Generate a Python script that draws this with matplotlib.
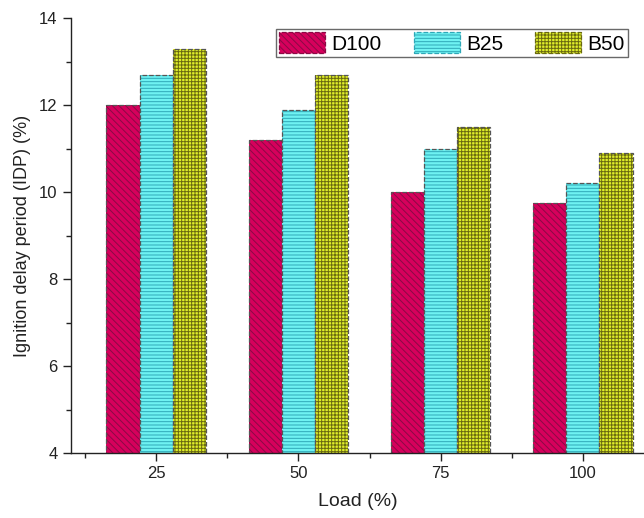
import numpy as np
import matplotlib
matplotlib.use('Agg')
import matplotlib.pyplot as plt
from matplotlib.patches import Patch
from matplotlib.ticker import MultipleLocator, FixedLocator

# data
loads = ['25', '50', '75', '100']
d100 = [12.0, 11.2, 10.0, 9.75]
b25 = [12.7, 11.9, 11.0, 10.2]
b50 = [13.3, 12.7, 11.5, 10.9]
series_names = ['D100', 'B25', 'B50']

plt.rcParams['font.family'] = ['Liberation Sans', 'DejaVu Sans']
plt.rcParams['hatch.linewidth'] = 0.7

faces = ['#d6005c', '#6ef2f2', '#dfee2a']
hatch_cols = ['#8a0a45', '#2fa8b8', '#6a6a10']
hatches = ['\\\\\\\\\\', '-----', '+++++']

fig = plt.figure(figsize=(6.44, 5.18), dpi=100)
ax = fig.add_axes([0.110, 0.125, 0.89, 0.840])

x = np.arange(1, len(loads) + 1)
width = 0.233
handles = []
for i, vals in enumerate([d100, b25, b50]):
    pos = x + (i - 1) * width
    ax.bar(pos, vals, width, bottom=0, color=faces[i], edgecolor=hatch_cols[i],
           hatch=hatches[i], linewidth=0)
    ax.bar(pos, vals, width, fill=False, edgecolor='#555555',
           linestyle='--', linewidth=0.9)
    handles.append(Patch(facecolor=faces[i], edgecolor=hatch_cols[i],
                         hatch=hatches[i], linewidth=0.9, linestyle='--'))

ax.set_ylim(4, 14)
ax.set_xlim(0.4, 4.43)
ax.set_xticks(x)
ax.set_xticklabels(loads)
ax.xaxis.set_minor_locator(FixedLocator([0.5, 1.5, 2.5, 3.5]))
ax.yaxis.set_major_locator(MultipleLocator(2))
ax.yaxis.set_minor_locator(MultipleLocator(1))

ax.spines['top'].set_visible(False)
ax.spines['right'].set_visible(False)
for s in ['left', 'bottom']:
    ax.spines[s].set_linewidth(1.0)
    ax.spines[s].set_color('#222222')

ax.tick_params(axis='both', which='major', direction='out', length=6,
               width=1.0, labelsize=12, colors='#222222')
ax.tick_params(axis='both', which='minor', direction='out', length=3.5,
               width=1.0, colors='#222222')

ax.set_xlabel('Load (%)', fontsize=14, color='#222222', labelpad=8)
ax.set_ylabel('Ignition delay period (IDP) (%)', fontsize=13, color='#222222',
              labelpad=6)

leg = ax.legend(handles, series_names, ncol=3, loc='upper right',
                bbox_to_anchor=(0.972, 0.975), fontsize=15, frameon=True,
                fancybox=False, edgecolor='#444444', handlelength=2.2,
                handleheight=1.15, columnspacing=1.55, handletextpad=0.3,
                borderpad=0.15, borderaxespad=0)
leg.get_frame().set_linewidth(1.0)

fig.savefig('out.png', dpi=100)
